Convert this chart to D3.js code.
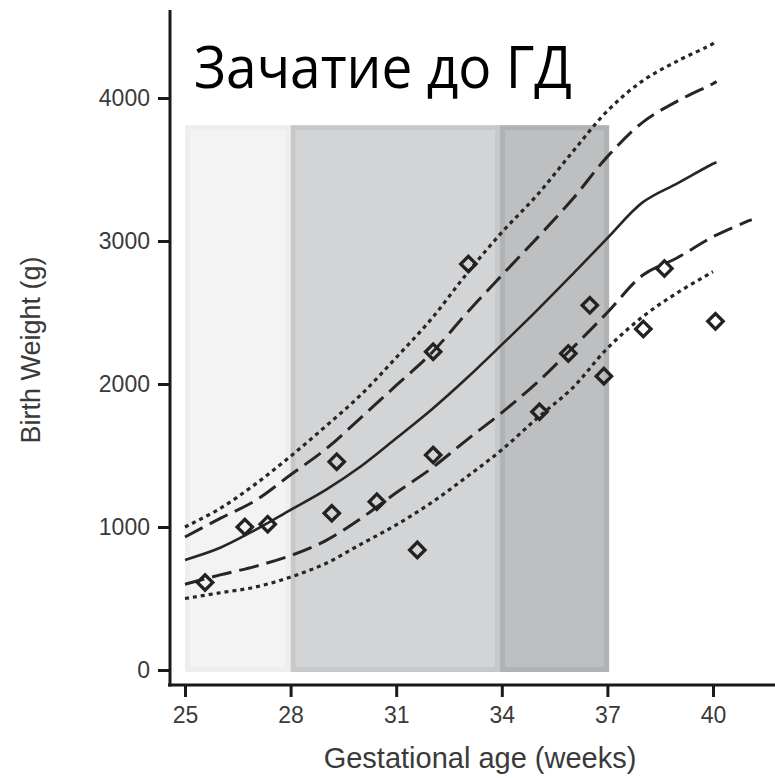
<!DOCTYPE html>
<html>
<head>
<meta charset="utf-8">
<script src="https://cdn.jsdelivr.net/npm/d3@7"></script>
<style>
  body { margin: 0; background: #fff; }
  svg { display: block; }
</style>
</head>
<body>
<div id="chart"></div>
<script>
const width = 775,
    height = 778;

// percentile curves, read per week
const weeks = [25, 26, 27, 28, 29, 30, 31, 32, 33, 34, 35, 36, 37, 38, 39, 40, 40.1];
const p97 = [1000, 1130, 1300, 1495, 1705, 1925, 2185, 2455, 2770, 3060, 3320, 3620, 3910, 4120, 4260, 4380, 4400];
const p90 = [930, 1060, 1185, 1365, 1545, 1765, 1990, 2215, 2495, 2760, 3020, 3290, 3590, 3830, 3980, 4100, 4115];
const p50 = [770, 855, 980, 1120, 1260, 1425, 1620, 1820, 2040, 2275, 2515, 2765, 3020, 3270, 3405, 3540, 3550];
const weeksP10 = [25, 26, 27, 28, 29, 30, 31, 32, 33, 34, 35, 36, 37, 38, 39, 40, 41, 41.1];
const p10 = [600, 665, 725, 800, 905, 1060, 1240, 1410, 1608, 1800, 2010, 2250, 2500, 2760, 2885, 3030, 3140, 3150];
const weeksP3 = [25, 26, 27, 28, 29, 30, 31, 32, 33, 34, 35, 36, 37, 38, 39, 40];
const p3 = [500, 540, 580, 650, 745, 880, 1015, 1170, 1350, 1540, 1760, 1970, 2250, 2470, 2640, 2785];

// observed infants
const obsWeek = [25.57, 26.7, 27.35, 29.17, 29.31, 30.45, 31.6, 32.05, 32.05, 33.05, 35.07, 35.89, 36.5, 36.9, 38.02, 38.62, 40.07];
const obsWeight = [612, 1000, 1020, 1096, 1457, 1177, 840, 1503, 2226, 2839, 1806, 2214, 2550, 2055, 2385, 2808, 2438];

// gestational windows
const bandStart = [25, 28, 33.95];
const bandEnd = [28, 33.95, 37.05];
const bandFill = ["#f3f3f3", "#d3d4d6", "#bebfc1"];
const bandEdge = ["#eeeeee", "#c7c8ca", "#b1b2b4"];
const bandTop = 3810;

const xTicks = [25, 28, 31, 34, 37, 40];
const yTicks = [0, 1000, 2000, 3000, 4000];

const svg = d3.select("#chart").append("svg")
    .attr("width", width)
    .attr("height", height);

const x = d3.scaleLinear().domain([25, 40]).range([185, 713]);
const y = d3.scaleLinear().domain([0, 4000]).range([670, 98]);

// shaded bands
bandStart.forEach(function(s, i) {
  svg.append("rect")
      .attr("x", x(s) + 2.5)
      .attr("y", y(bandTop) + 2.5)
      .attr("width", x(bandEnd[i]) - x(s) - 5)
      .attr("height", y(0) - y(bandTop) - 3)
      .attr("fill", bandFill[i])
      .attr("stroke", bandEdge[i])
      .attr("stroke-width", 5);
});

const line = d3.line()
    .x(d => x(d[0]))
    .y(d => y(d[1]))
    .curve(d3.curveCatmullRom.alpha(0.5));

const curves = [
  {w: weeks, v: p97, dash: "4,4", sw: 3.2},
  {w: weeks, v: p90, dash: "20,8", sw: 3},
  {w: weeks, v: p50, dash: null, sw: 2.6},
  {w: weeksP10, v: p10, dash: "20,8", sw: 3},
  {w: weeksP3, v: p3, dash: "4,4", sw: 3.2}
];

svg.selectAll("path.curve")
    .data(curves)
    .enter().append("path")
    .attr("class", "curve")
    .attr("d", c => line(c.w.map((w, i) => [w, c.v[i]])))
    .attr("fill", "none")
    .attr("stroke", "#262626")
    .attr("stroke-width", c => c.sw)
    .attr("stroke-dasharray", c => c.dash);

svg.selectAll("path.obs")
    .data(obsWeek)
    .enter().append("path")
    .attr("class", "obs")
    .attr("d", d3.symbol().type(d3.symbolSquare).size(118))
    .attr("transform", (d, i) => "translate(" + x(d) + "," + y(obsWeight[i]) + ") rotate(45)")
    .attr("fill", "none")
    .attr("stroke", "#222")
    .attr("stroke-width", 3.3);

// axes
const xAxis = svg.append("g")
    .attr("transform", "translate(0,685)")
    .call(d3.axisBottom(x).tickValues(xTicks).tickSize(12).tickPadding(10).tickFormat(d3.format("d")));
xAxis.select(".domain").remove();
xAxis.append("line")
    .attr("x1", 168).attr("x2", 775)
    .attr("stroke", "#1a1a1a").attr("stroke-width", 3);

const yAxis = svg.append("g")
    .attr("transform", "translate(170,0)")
    .call(d3.axisLeft(y).tickValues(yTicks).tickSize(12).tickPadding(8).tickFormat(d3.format("d")));
yAxis.select(".domain").remove();
yAxis.append("line")
    .attr("y1", 10).attr("y2", 686.5)
    .attr("stroke", "#1a1a1a").attr("stroke-width", 3);

svg.selectAll(".tick line")
    .attr("stroke", "#1a1a1a")
    .attr("stroke-width", 3);
svg.selectAll(".tick text")
    .attr("fill", "#3a3a3a")
    .style("font-family", "'Liberation Sans', Arial, sans-serif")
    .style("font-size", "23px");

svg.append("text")
    .attr("x", 480)
    .attr("y", 768)
    .attr("text-anchor", "middle")
    .attr("fill", "#3a3a3a")
    .style("font-family", "'Liberation Sans', Arial, sans-serif")
    .style("font-size", "29px")
    .text("Gestational age (weeks)");

svg.append("text")
    .attr("transform", "translate(40,350) rotate(-90)")
    .attr("text-anchor", "middle")
    .attr("fill", "#3a3a3a")
    .style("font-family", "'Liberation Sans', Arial, sans-serif")
    .style("font-size", "27px")
    .text("Birth Weight (g)");

svg.append("text")
    .attr("x", 194)
    .attr("y", 88)
    .attr("fill", "#000")
    .attr("textLength", 378)
    .attr("lengthAdjust", "spacingAndGlyphs")
    .style("font-family", "'Open Sans', 'Noto Sans', sans-serif")
    .style("font-size", "58px")
    .text("Зачатие до ГД");
</script>
</body>
</html>
